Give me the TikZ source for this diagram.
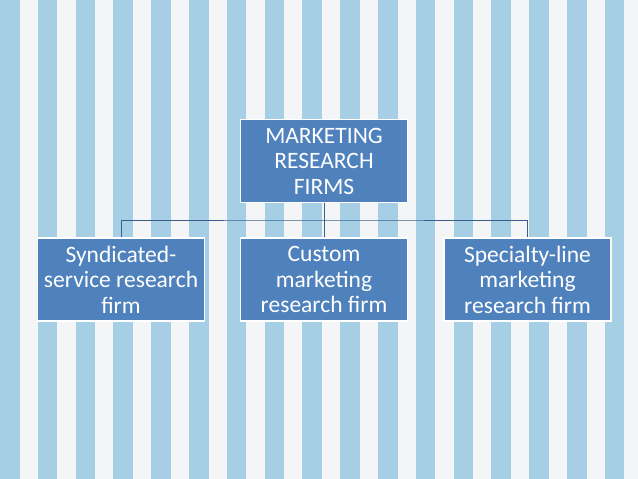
\documentclass[tikz,border=0pt]{standalone}
\usepackage{fontspec}
\setmainfont{Carlito}
\definecolor{bgwhite}{HTML}{F3F5F7}
\definecolor{stripe}{HTML}{A6CFE5}
\definecolor{boxfill}{HTML}{4F81BD}
\definecolor{conn}{HTML}{3B5E8C}
\tikzset{
  orgbox/.style={draw=white, line width=1.3pt, fill=boxfill, text=white,
    minimum width=167pt, minimum height=83pt, align=center, inner sep=2pt,
    font=\fontsize{23.5pt}{25.5pt}\selectfont},
  orgline/.style={draw=conn, line width=0.9pt}
}
\begin{document}
\begin{tikzpicture}[x=1pt,y=1pt]
\useasboundingbox (0,0) rectangle (638,-479);
\fill[bgwhite] (0,0) rectangle (638,-479);
\foreach \i in {0,...,16} {
  \fill[stripe] (\i*37.8,0) rectangle ++(19.5,-479);
}
\node[orgbox] (top) at (324,-161) {MARKETING\\RESEARCH\\FIRMS};
\node[orgbox] (left) at (121,-279.5) {Syndicated-\\service research\\firm};
\node[orgbox] (mid) at (324,-279.5) {Custom\\marketing\\research firm};
\node[orgbox] (right) at (527.5,-279.5) {Specialty-line\\marketing\\research firm};
\coordinate (bus) at (324,-220);
\draw[orgline] (top.south) -- (bus);
\draw[orgline] (left.north) |- (bus) -| (right.north);
\draw[orgline] (bus) -- (mid.north);
\end{tikzpicture}
\end{document}
